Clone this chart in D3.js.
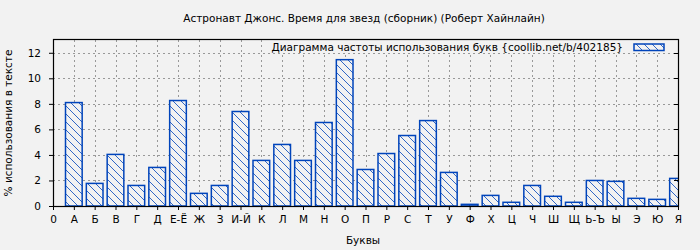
<!DOCTYPE html>
<html>
<head>
<meta charset="utf-8">
<script src="https://cdn.jsdelivr.net/npm/d3@7"></script>
<style>
  body { margin: 0; background: #f2f2f2; }
  text { font-family: "DejaVu Sans", sans-serif; font-size: 10.5px; fill: #000; }
</style>
</head>
<body>
<div id="canvas"></div>
<script>
var w = 700;
var h = 250;

// tick labels along the bottom, position 0 is the origin
var tickLabels = ["0", "А", "Б", "В", "Г", "Д", "Е-Ё", "Ж", "З", "И-Й", "К", "Л", "М", "Н", "О",
                  "П", "Р", "С", "Т", "У", "Ф", "Х", "Ц", "Ч", "Ш", "Щ", "Ь-Ъ", "Ы", "Э", "Ю", "Я"];
var letters = tickLabels.slice(1);
var percents = [8.1, 1.77, 4.04, 1.61, 3.02, 8.26, 0.99, 1.61, 7.40, 3.57, 4.82, 3.57, 6.54, 11.46, 2.86,
                4.11, 5.52, 6.69, 2.63, 0.13, 0.83, 0.29, 1.61, 0.76, 0.29, 2.0, 1.93, 0.6, 0.52, 2.16];
var yTicks = [0, 2, 4, 6, 8, 10, 12];

var title = "Астронавт Джонс. Время для звезд (сборник) (Роберт Хайнлайн)";
var legendText = "Диаграмма частоты использования букв {coollib.net/b/402185}";

var pLeft = 53, pRight = 678, pTop = 40, pBottom = 206;
var blue = "#0044bb";
var hs = 8; // hatch spacing

var svg = d3.select("#canvas").append("svg")
            .attr("width", w)
            .attr("height", h)
            .style("background-color", "#f2f2f2");

var defs = svg.append("defs");
var pat = defs.append("pattern")
    .attr("id", "hatch")
    .attr("patternUnits", "userSpaceOnUse")
    .attr("width", hs)
    .attr("height", hs);
pat.append("rect").attr("width", hs).attr("height", hs).attr("fill", "#f2f2f2");
pat.append("path")
    .attr("d", `M0,0 L${hs},${hs} M${-hs/2},${hs/2} L${hs/2},${hs*1.5} M${hs/2},${-hs/2} L${hs*1.5},${hs/2}`)
    .attr("stroke", blue)
    .attr("stroke-width", 0.8);

defs.append("clipPath").attr("id", "plotclip")
    .append("rect")
    .attr("x", pLeft).attr("y", pTop)
    .attr("width", pRight - pLeft).attr("height", pBottom - pTop);

var xScale = d3.scaleLinear().domain([0, tickLabels.length - 1]).range([pLeft, pRight]);
var yScale = d3.scaleLinear().domain([0, 13]).range([pBottom, pTop]);
var barW = (xScale(1) - xScale(0)) * 0.8;

// grid
svg.append("g").selectAll("line")
    .data(yTicks.filter(d => d > 0))
    .enter().append("line")
    .attr("x1", pLeft).attr("x2", pRight)
    .attr("y1", d => Math.round(yScale(d)) + 0.5)
    .attr("y2", d => Math.round(yScale(d)) + 0.5)
    .attr("stroke", "#999").attr("stroke-dasharray", "2,3");

svg.append("g").selectAll("line")
    .data(d3.range(1, tickLabels.length - 1))
    .enter().append("line")
    .attr("x1", d => Math.round(xScale(d)) + 0.5)
    .attr("x2", d => Math.round(xScale(d)) + 0.5)
    .attr("y1", pTop).attr("y2", pBottom)
    .attr("stroke", "#999").attr("stroke-dasharray", "2,3");

// bars
svg.append("g")
    .attr("clip-path", "url(#plotclip)")
    .selectAll("rect")
    .data(percents)
    .enter().append("rect")
    .attr("x", (d, i) => xScale(i + 1) - barW / 2)
    .attr("y", d => yScale(d))
    .attr("width", barW)
    .attr("height", d => pBottom - yScale(d))
    .attr("fill", "url(#hatch)")
    .attr("stroke", blue)
    .attr("stroke-width", 1.5);

// axes
var xAxis = d3.axisBottom(xScale)
    .tickValues(d3.range(tickLabels.length))
    .tickFormat(i => tickLabels[i])
    .tickSizeInner(4).tickSizeOuter(0).tickPadding(6);
svg.append("g").attr("transform", "translate(0," + pBottom + ")").call(xAxis)
    .call(g => g.select(".domain").remove())
    .selectAll("text").style("font-size", "10.5px").style("font-family", "DejaVu Sans");

var yAxis = d3.axisLeft(yScale)
    .tickValues(yTicks)
    .tickSizeInner(4).tickSizeOuter(0).tickPadding(8);
svg.append("g").attr("transform", "translate(" + pLeft + ",0)").call(yAxis)
    .call(g => g.select(".domain").remove())
    .selectAll("text").style("font-size", "10.5px").style("font-family", "DejaVu Sans");

// mirror ticks on the right
svg.append("g").selectAll("line")
    .data(yTicks)
    .enter().append("line")
    .attr("x1", pRight - 4).attr("x2", pRight)
    .attr("y1", d => Math.round(yScale(d)) + 0.5)
    .attr("y2", d => Math.round(yScale(d)) + 0.5)
    .attr("stroke", "#000");

// legend (its own background hides the grid behind it)
svg.append("rect")
    .attr("x", 270).attr("y", pTop).attr("width", 400).attr("height", 13)
    .attr("fill", "#f2f2f2");
svg.append("text")
    .attr("x", 623).attr("y", 51)
    .attr("text-anchor", "end")
    .text(legendText);
svg.append("rect")
    .attr("x", 634).attr("y", 44).attr("width", 30).attr("height", 6.5)
    .attr("fill", "url(#hatch)").attr("stroke", blue).attr("stroke-width", 1.5);

// frame
svg.append("rect")
    .attr("x", pLeft + 0.5).attr("y", pTop - 0.5)
    .attr("width", pRight - pLeft).attr("height", pBottom - pTop + 1)
    .attr("fill", "none").attr("stroke", "#000").attr("stroke-width", 1.2);

// titles
svg.append("text")
    .attr("x", 364).attr("y", 22)
    .attr("text-anchor", "middle")
    .text(title);
svg.append("text")
    .attr("x", 363).attr("y", 244)
    .attr("text-anchor", "middle")
    .text("Буквы");
svg.append("text")
    .attr("transform", "translate(12,123) rotate(-90)")
    .attr("text-anchor", "middle")
    .text("% использования в тексте");
</script>
</body>
</html>
